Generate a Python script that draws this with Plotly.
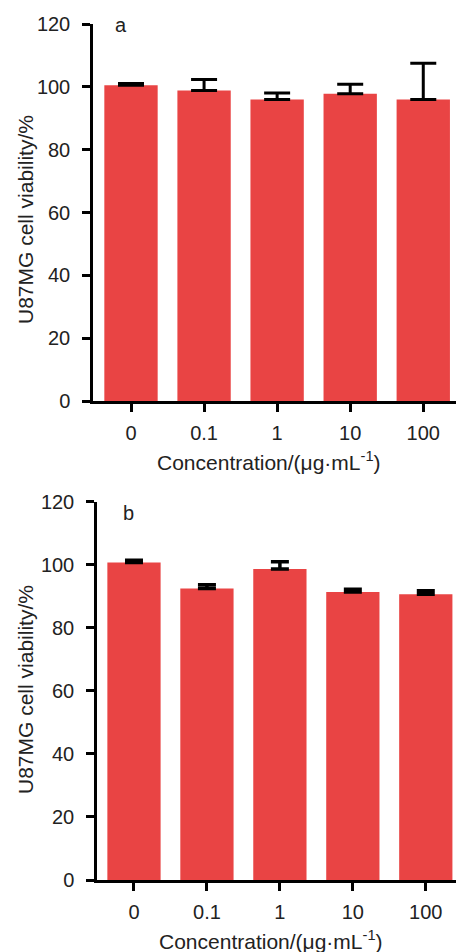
import plotly.graph_objects as go

categories = ["0", "0.1", "1", "10", "100"]
viability_a = [100.5, 98.8, 96.0, 97.8, 96.0]
error_a = [0.6, 3.5, 2.0, 3.0, 11.5]
viability_b = [100.7, 92.4, 98.6, 91.3, 90.6]
error_b = [0.7, 1.2, 2.3, 0.9, 1.1]
y_ticks = [0, 20, 40, 60, 80, 100, 120]
panel_labels = ["a", "b"]
y_title = "U87MG cell viability/%"
x_title = "Concentration/(μg·mL<sup>-1</sup>)"

OFF = 8  # default page body margin
W, H = 464 - OFF, 952 - OFF
BAR = "#E94444"
FONT = "Liberation Sans, Arial, sans-serif"

fig = go.Figure()
xpos = list(range(len(categories)))

for i, (vals, errs) in enumerate([(viability_a, error_a), (viability_b, error_b)]):
    suffix = "" if i == 0 else "2"
    fig.add_trace(go.Bar(
        x=xpos, y=vals, width=0.73, marker=dict(color=BAR, line=dict(width=0)),
        error_y=dict(type="data", array=errs, arrayminus=[0]*len(errs), symmetric=False,
                     color="black", thickness=3 if i == 0 else 3.5, width=13 if i == 0 else 9),
        xaxis="x" + suffix, yaxis="y" + suffix, showlegend=False))

def px_x(p):
    return (p - OFF) / W

def px_y(p):
    return 1 - (p - OFF) / H

axis_common = dict(showline=True, linecolor="black", linewidth=2.5, ticks="outside",
                   ticklen=8, tickwidth=2.5, tickcolor="black", showgrid=False, zeroline=False,
                   tickfont=dict(family=FONT, size=20, color="#222"), automargin=False)

fig.update_layout(
    width=W, height=H, margin=dict(l=0, r=0, t=0, b=0),
    paper_bgcolor="white", plot_bgcolor="white",
    xaxis=dict(domain=[px_x(93), px_x(462)], range=[-0.52, 4.53], tickvals=xpos,
               ticktext=categories, anchor="y", ticklabelstandoff=4, **axis_common),
    yaxis=dict(domain=[px_y(401), px_y(24)], range=[0, 120], tickvals=y_ticks,
               anchor="x", ticklabelstandoff=8, **axis_common),
    xaxis2=dict(domain=[px_x(97), px_x(463)], range=[-0.507, 4.51], tickvals=xpos,
                ticktext=categories, anchor="y2", ticklabelstandoff=4, **axis_common),
    yaxis2=dict(domain=[px_y(880), px_y(501.5)], range=[0, 120], tickvals=y_ticks,
                anchor="x2", ticklabelstandoff=8, **axis_common),
)

ann = []
for (lx, ly, lab) in [(121, 25, panel_labels[0]), (128, 513, panel_labels[1])]:
    ann.append(dict(x=px_x(lx), y=px_y(ly), xref="paper", yref="paper", text=lab,
                    xanchor="center", yanchor="middle",
                    showarrow=False, font=dict(family=FONT, size=20, color="#222")))
for yc in [220, 690]:
    ann.append(dict(x=px_x(25), y=px_y(yc), xref="paper", yref="paper", text=y_title,
                    xanchor="center", yanchor="middle",
                    textangle=-90, showarrow=False, font=dict(family=FONT, size=21, color="#222")))
for (xc, yc) in [(269, 461), (271, 940)]:
    ann.append(dict(x=px_x(xc), y=px_y(yc), xref="paper", yref="paper", text=x_title,
                    xanchor="center", yanchor="middle",
                    showarrow=False, font=dict(family=FONT, size=21, color="#222")))
fig.update_layout(annotations=ann)

fig.write_html("out.html")
